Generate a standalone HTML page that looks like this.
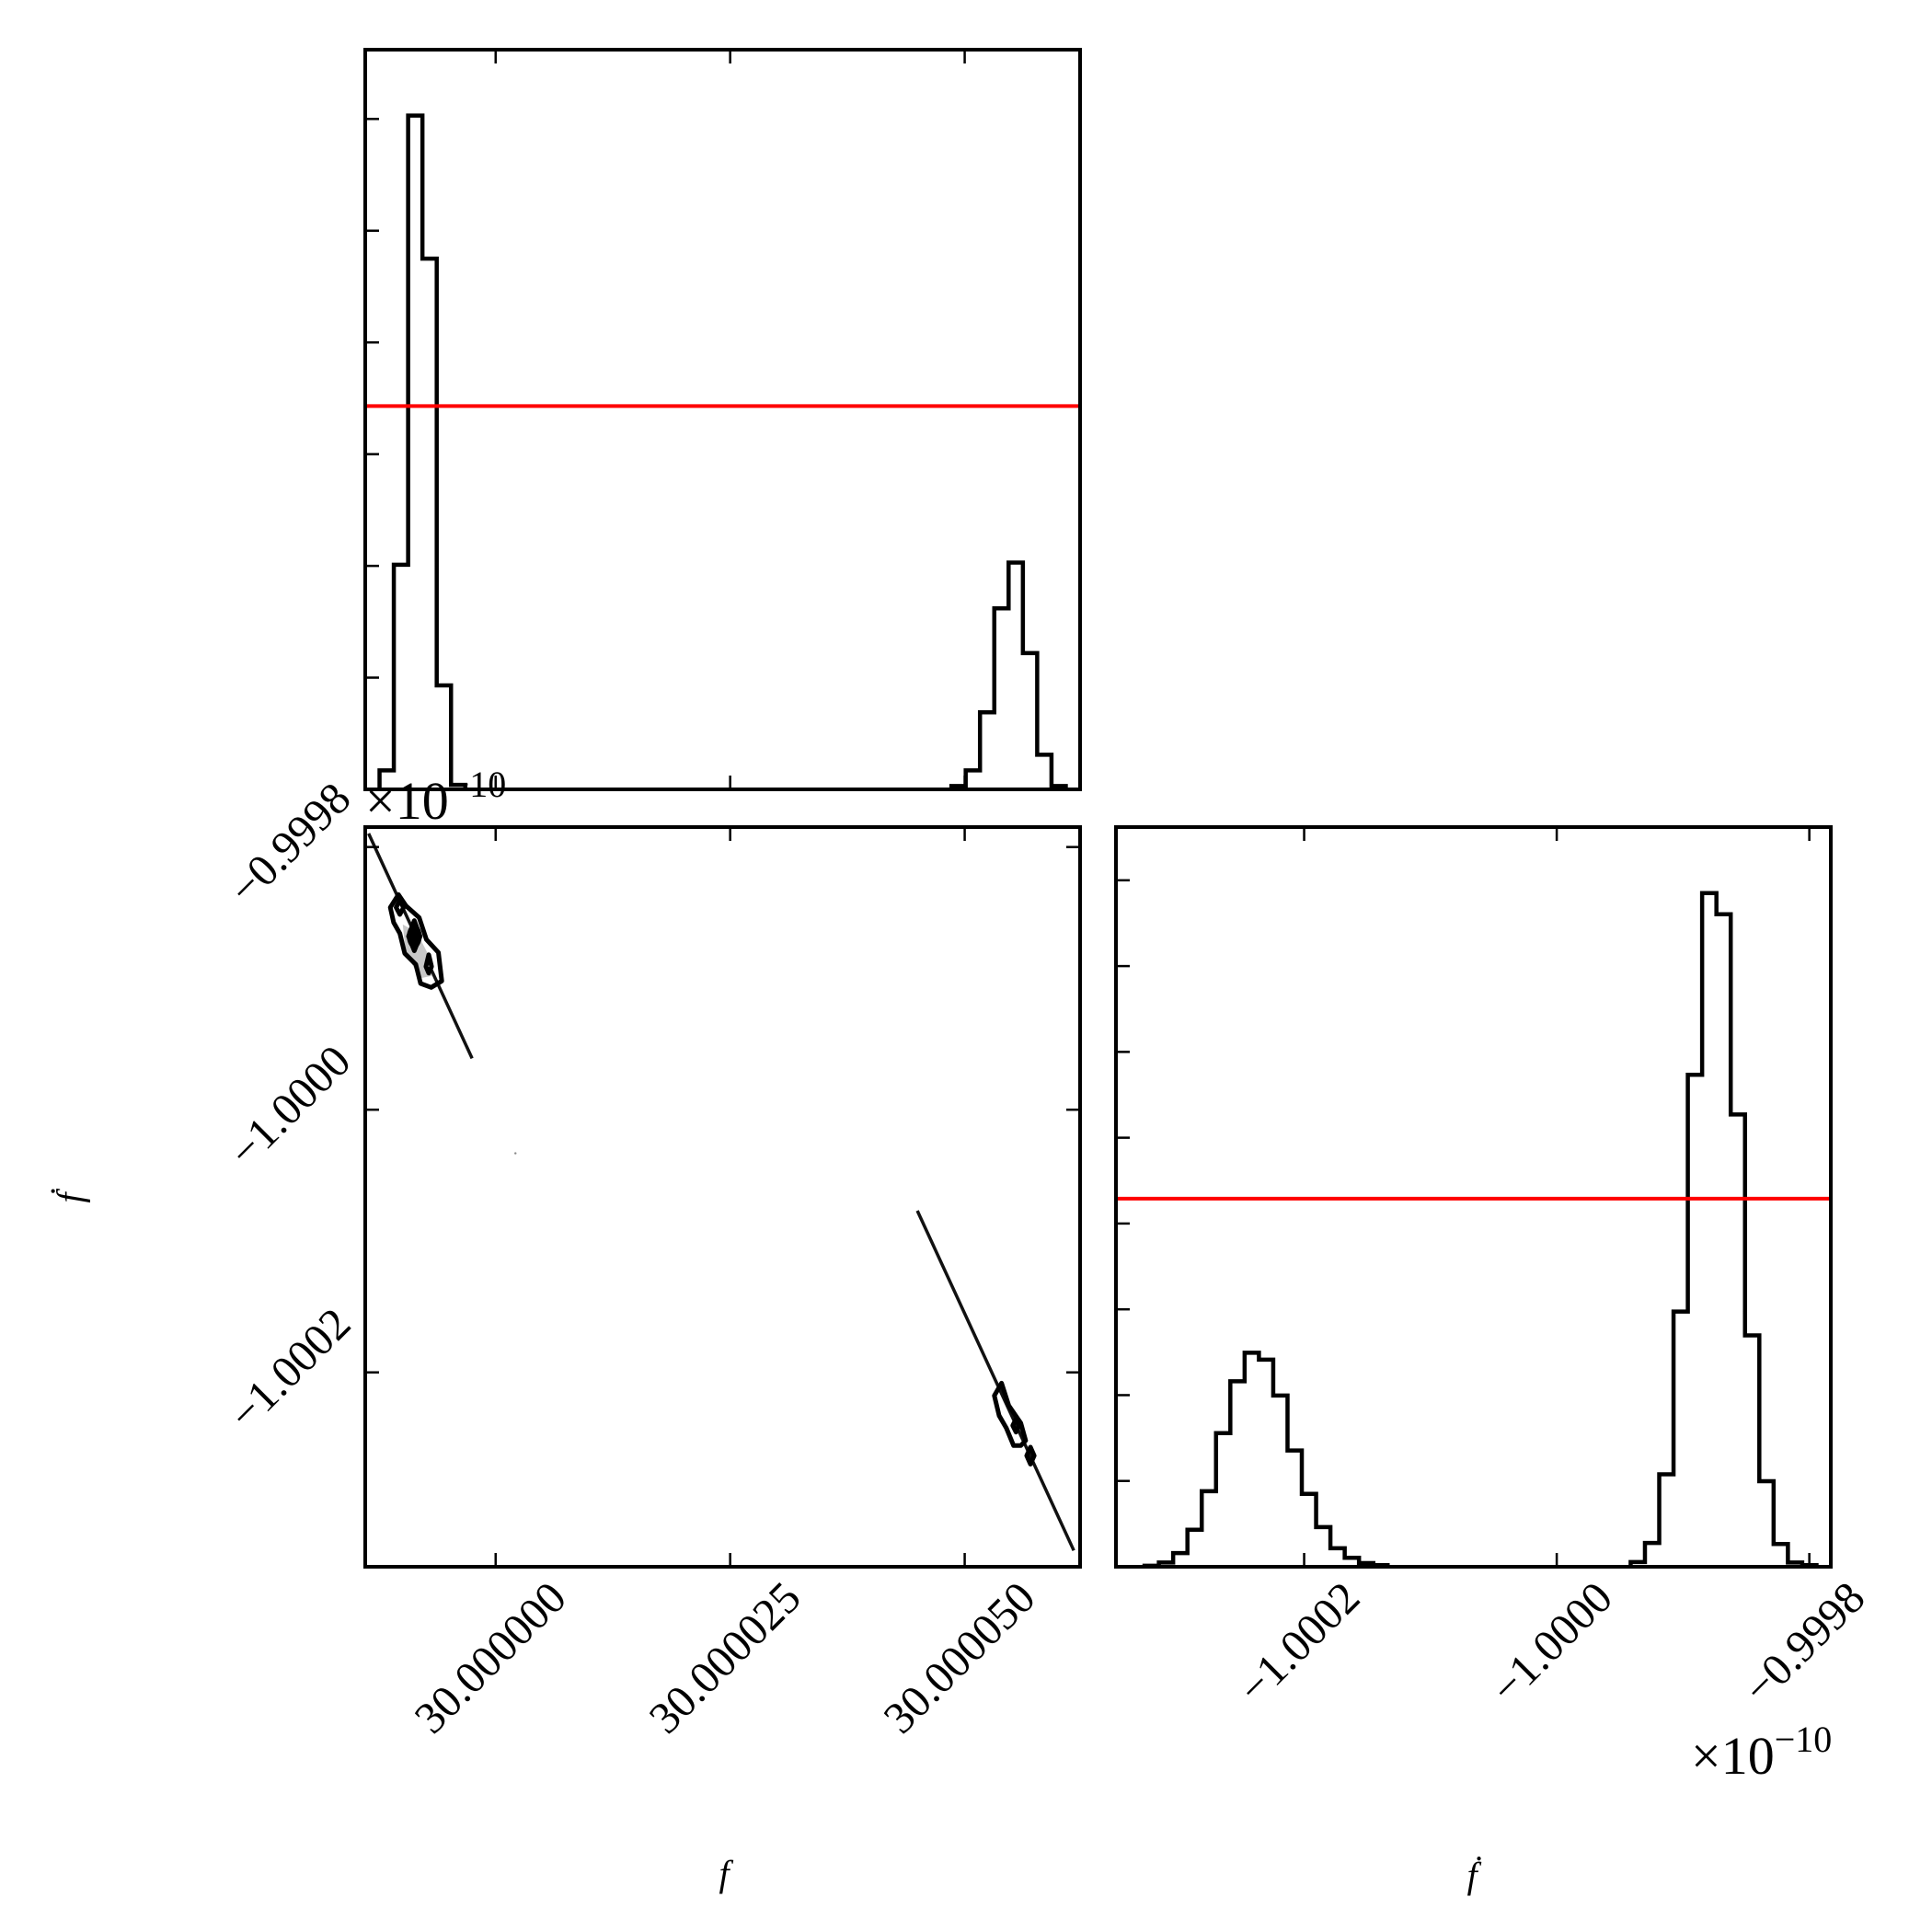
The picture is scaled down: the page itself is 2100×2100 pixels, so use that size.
<!DOCTYPE html>
<html><head><meta charset="utf-8"><style>
html,body{margin:0;padding:0;background:#fff;}
svg{display:block;font-family:"Liberation Serif","DejaVu Serif",serif;}
</style></head><body>
<svg id="fig" width="2100" height="2100" viewBox="0 0 2100 2100" xmlns="http://www.w3.org/2000/svg">
<rect width="2100" height="2100" fill="#fff"/>
<g id="p1"></g>
<g id="p2"></g>
<g id="p3"></g>
<g id="txt"></g>
<text x="397" y="890" font-size="58">×10<tspan dy="-24" font-size="40">−10</tspan></text>
<text x="1838" y="1928" font-size="58">×10<tspan dy="-24" font-size="40">−10</tspan></text>
<text x="787" y="2050" font-style="italic" font-size="40" text-anchor="middle">f</text>
<text x="1600" y="2052" font-style="italic" font-size="40" text-anchor="middle">ḟ</text>
<text x="76" y="1302" font-style="italic" font-size="40" text-anchor="middle" dominant-baseline="central" transform="rotate(-90 76 1302)">ḟ</text>
</svg>
<script>
// ---- data ----
const fRange = [-13.9, 62.3];
const fdRange = [-3.49, 2.17];
const fdYRange = [-3.48, 2.152];
const fTickVals = [0, 25, 50];
const fTickLabels = ["30.000000", "30.000025", "30.000050"];
const fdTickVals = [-2, 0, 2];
const fdTickLabels = ["\u22121.0002", "\u22121.0000", "\u22120.9998"];
const fdYTickVals = [2, 0, -2];
const fdYTickLabels = ["\u22120.9998", "\u22121.0000", "\u22121.0002"];
const nBins = 50;
const fHistBins = [1,2,3,4,5,6,41,42,43,44,45,46,47,48];
const fHistVals = [0.17,2.01,6.03,4.75,0.93,0.04,0.03,0.17,0.69,1.62,2.03,1.22,0.31,0.03];
const fHistYMax = 6.62;
const fHistYTicks = [1,2,3,4,5,6];
const fTruthY = 3.43;
const fdHistBins = [2,3,4,5,6,7,8,9,10,11,12,13,14,15,16,17,18,36,37,38,39,40,41,42,43,44,45,46,47,48];
const fdHistVals = [2,8,26,70,143,253,351,405,392,324,220,138,75,35,17,7,3,9,45,175,483,931,1275,1235,856,438,162,43,8,3];
const fdHistScale = 162.4;
const fdHistYMax = 8.62;
const fdHistYTicks = [1,2,3,4,5,6,7,8];
const fdTruthY = 4.29;
const contourOuterA = [[-11.23,1.540],[-10.36,1.638],[-9.54,1.551],[-8.15,1.463],[-7.38,1.296],[-6.10,1.197],[-5.74,0.980],[-6.87,0.931],[-8.00,0.961],[-8.51,1.106],[-9.69,1.190],[-10.21,1.342],[-10.87,1.425]];
const contourGrayA = [[-9.9,1.41],[-8.4,1.35],[-7.1,1.17],[-6.8,1.02],[-8.1,1.0],[-9.6,1.2]];
const contourInnerA = [[-8.67,1.44],[-8.05,1.32],[-8.67,1.21],[-9.29,1.32]];
const contourSmallA1 = [[-10.21,1.593],[-9.81,1.540],[-10.21,1.487],[-10.61,1.540]];
const contourSmallA2 = [[-7.13,1.18],[-6.83,1.09],[-7.13,1.04],[-7.43,1.09]];
const contourOuterB = [[53.16,-2.177],[53.93,-2.082],[54.70,-2.253],[55.98,-2.386],[56.50,-2.519],[55.98,-2.557],[55.21,-2.557],[54.44,-2.424],[53.67,-2.329]];
const contourInnerB = [[55.47,-2.355],[55.82,-2.405],[55.47,-2.455],[55.12,-2.405]];
const contourSmallB = [[57.01,-2.569],[57.41,-2.634],[57.01,-2.699],[56.61,-2.634]];
const scatterSegA = [[-13.54,2.103],[-2.51,0.391]];
const scatterSegB = [[44.95,-0.769],[61.63,-3.356]];
const scatterDot = [2.11,-0.332];

const P1 = {x0:397,x1:1174,y0:54,y1:858};
const P2 = {x0:397,x1:1174,y0:899,y1:1703};
const P3 = {x0:1213,x1:1990,y0:899,y1:1703};
const NS = "http://www.w3.org/2000/svg";
function el(tag, attrs, parent){const e=document.createElementNS(NS,tag);for(const k in attrs)e.setAttribute(k,attrs[k]);parent.appendChild(e);return e;}
function lin(d0,d1,r0,r1){return v=>r0+(v-d0)/(d1-d0)*(r1-r0);}

function histPath(bins, vals, P, ymax, scale){
  const sx = lin(0,nBins,P.x0,P.x1), sy = lin(0,ymax,P.y1,P.y0);
  let d = "";
  for(let i=0;i<bins.length;i++){
    const b=bins[i], v=vals[i]/scale;
    const xa=sx(b), xb=sx(b+1), y=sy(v);
    if(i===0 || bins[i-1]!==b-1){ d += "M"+xa+","+P.y1+" "; }
    d += "L"+xa+","+y+" L"+xb+","+y+" ";
    if(i===bins.length-1 || bins[i+1]!==b+1){ d += "L"+xb+","+P.y1+" "; }
  }
  return d;
}
function frame(g,P){
  el("rect",{x:P.x0,y:P.y0,width:P.x1-P.x0,height:P.y1-P.y0,fill:"none",stroke:"#000","stroke-width":4},g);
}
function tick(g,x1,y1,x2,y2){el("line",{x1,y1,x2,y2,stroke:"#000","stroke-width":2.5},g);}

const g1=document.getElementById("p1");
{
  const sx=lin(fRange[0],fRange[1],P1.x0,P1.x1), sy=lin(0,fHistYMax,P1.y1,P1.y0);
  const h=el("path",{d:histPath(fHistBins,fHistVals,P1,fHistYMax,1),fill:"none",stroke:"#000","stroke-width":4.5},g1);
  
  
  const r=el("line",{x1:P1.x0,x2:P1.x1,y1:sy(fTruthY),y2:sy(fTruthY),stroke:"#f00","stroke-width":4},g1);
  
  
  fTickVals.forEach(v=>{const x=sx(v);tick(g1,x,P1.y0,x,P1.y0+15);tick(g1,x,P1.y1,x,P1.y1-15);});
  fHistYTicks.forEach(v=>{const y=sy(v);tick(g1,P1.x0,y,P1.x0+15,y);});
  frame(g1,P1);
}
const g3=document.getElementById("p3");
{
  const sx=lin(fdRange[0],fdRange[1],P3.x0,P3.x1), sy=lin(0,fdHistYMax,P3.y1,P3.y0);
  const h=el("path",{d:histPath(fdHistBins,fdHistVals,P3,fdHistYMax,fdHistScale),fill:"none",stroke:"#000","stroke-width":4.5},g3);
  
  
  const r=el("line",{x1:P3.x0,x2:P3.x1,y1:sy(fdTruthY),y2:sy(fdTruthY),stroke:"#f00","stroke-width":4},g3);
  
  
  fdTickVals.forEach(v=>{const x=sx(v);tick(g3,x,P3.y0,x,P3.y0+15);tick(g3,x,P3.y1,x,P3.y1-15);});
  fdHistYTicks.forEach(v=>{const y=sy(v);tick(g3,P3.x0,y,P3.x0+15,y);});
  frame(g3,P3);
}
const g2=document.getElementById("p2");
{
  const sx=lin(fRange[0],fRange[1],P2.x0,P2.x1), sy=lin(fdYRange[0],fdYRange[1],P2.y1,P2.y0);
  const pts=a=>a.map(p=>sx(p[0])+","+sy(p[1])).join(" ");
  [scatterSegA,scatterSegB].forEach(s=>{
    const l=el("line",{x1:sx(s[0][0]),y1:sy(s[0][1]),x2:sx(s[1][0]),y2:sy(s[1][1]),stroke:"#111","stroke-width":3.5},g2);
    
    
  });
  const dot=el("circle",{cx:sx(scatterDot[0]),cy:sy(scatterDot[1]),r:1.2,fill:"#888"},g2);
  
  
  const gr=el("polygon",{points:pts(contourGrayA),fill:"#c8c8c8",stroke:"none"},g2);
  
  
  [contourOuterA,contourInnerA,contourSmallA1,contourSmallA2,contourOuterB,contourInnerB,contourSmallB].forEach(c=>{
    const p=el("polygon",{points:pts(c),fill:"none",stroke:"#000","stroke-width":5,"stroke-linejoin":"round"},g2);
    
    
  });
  const core=el("ellipse",{cx:sx(-8.67),cy:sy(1.32),rx:8,ry:13,fill:"#000"},g2);
  
  
  fTickVals.forEach(v=>{const x=sx(v);tick(g2,x,P2.y0,x,P2.y0+15);tick(g2,x,P2.y1,x,P2.y1-15);});
  fdYTickVals.forEach(v=>{const y=sy(v);tick(g2,P2.x0,y,P2.x0+15,y);tick(g2,P2.x1,y,P2.x1-15,y);});
  frame(g2,P2);
}
const gt=document.getElementById("txt");
function rotLabel(str,mode,pos,name){
  const t=el("text",{"font-size":49,"text-anchor":"middle","dominant-baseline":"central"},gt);
  t.textContent=str;
  
  
  const L=t.getComputedTextLength(), half=L*0.7071/2;
  let cx,cy;
  if(mode==="x"){cx=pos-6;cy=1728+half;} else {cx=372-half;cy=pos-4;}
  t.setAttribute("x",cx);t.setAttribute("y",cy);
  t.setAttribute("transform","rotate(-45 "+cx+" "+cy+")");
}
{
  const sx2=lin(fRange[0],fRange[1],P2.x0,P2.x1);
  fTickVals.forEach((v,i)=>rotLabel(fTickLabels[i],"x",sx2(v),"f-tick-label"));
  const sx3=lin(fdRange[0],fdRange[1],P3.x0,P3.x1);
  fdTickVals.forEach((v,i)=>rotLabel(fdTickLabels[i],"x",sx3(v),"fdot-tick-label"));
  const sy2=lin(fdYRange[0],fdYRange[1],P2.y1,P2.y0);
  fdYTickVals.forEach((v,i)=>rotLabel(fdYTickLabels[i],"y",sy2(v),"fdot-y-tick-label"));
}
</script>
</body></html>
